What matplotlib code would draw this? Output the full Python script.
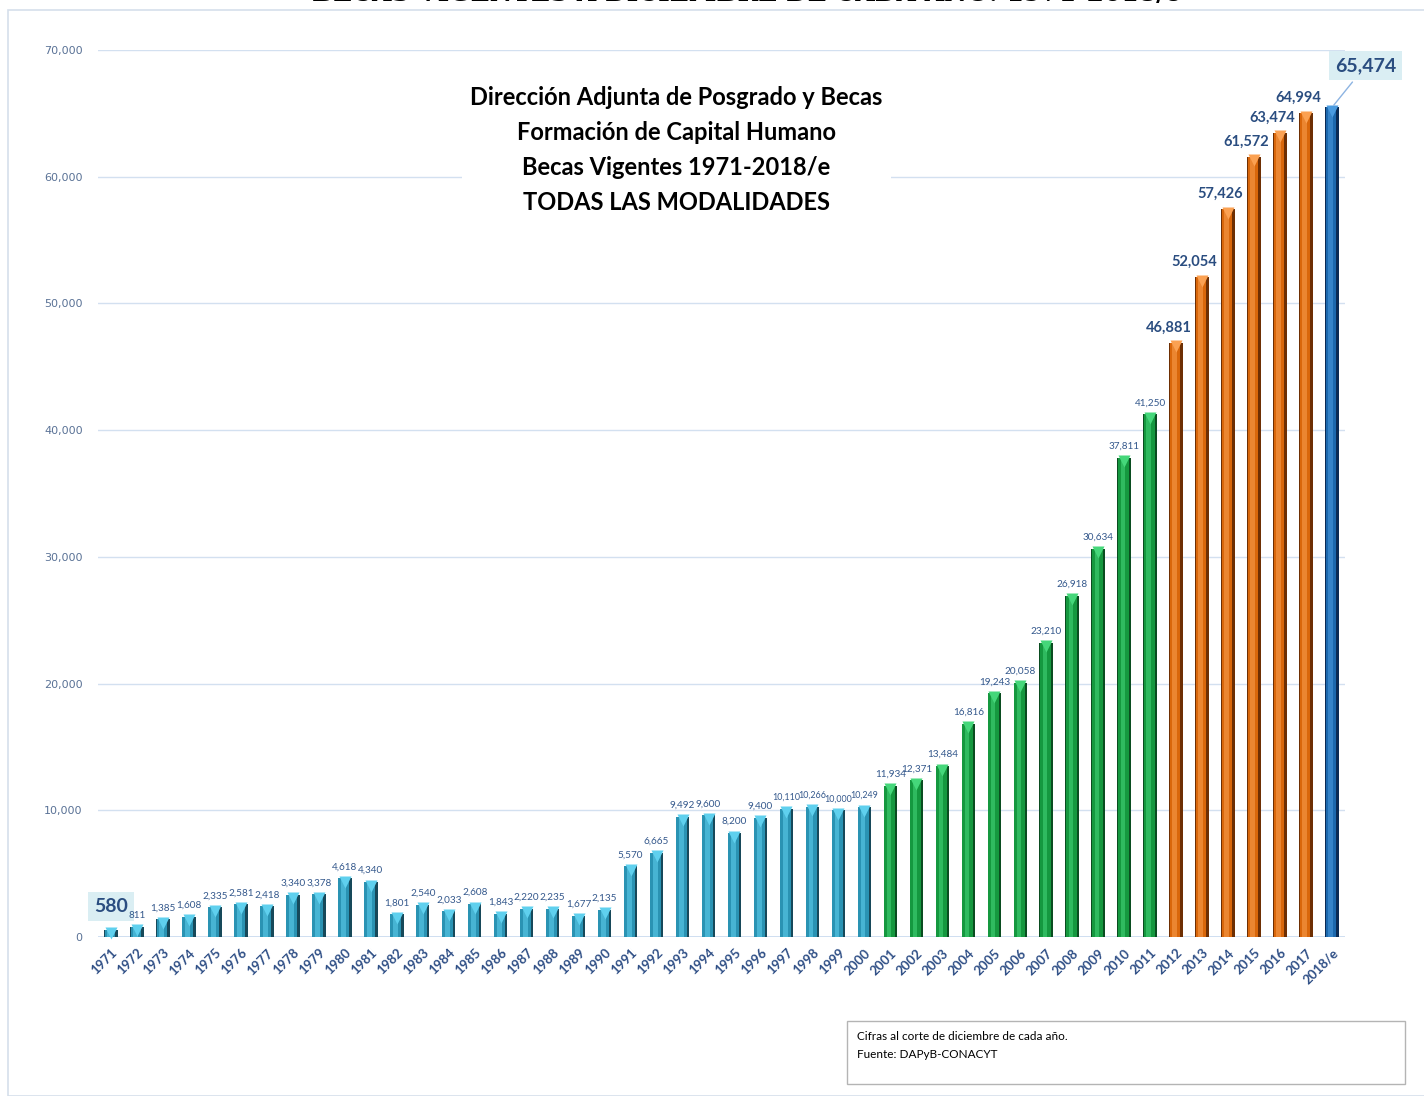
import numpy as np
import matplotlib
matplotlib.use('Agg')
import matplotlib.pyplot as plt
from matplotlib.patches import Rectangle

years = ['1971', '1972', '1973', '1974', '1975', '1976', '1977', '1978', '1979', '1980',
         '1981', '1982', '1983', '1984', '1985', '1986', '1987', '1988', '1989', '1990',
         '1991', '1992', '1993', '1994', '1995', '1996', '1997', '1998', '1999', '2000',
         '2001', '2002', '2003', '2004', '2005', '2006', '2007', '2008', '2009', '2010',
         '2011', '2012', '2013', '2014', '2015', '2016', '2017', '2018/e']
becas = [580, 811, 1385, 1608, 2335, 2581, 2418, 3340, 3378, 4618,
         4340, 1801, 2540, 2033, 2608, 1843, 2220, 2235, 1677, 2135,
         5570, 6665, 9492, 9600, 8200, 9400, 10110, 10266, 10000, 10249,
         11934, 12371, 13484, 16816, 19243, 20058, 23210, 26918, 30634, 37811,
         41250, 46881, 52054, 57426, 61572, 63474, 64994, 65474]
# periodo de cada barra: 0 = 1971-2000, 1 = 2001-2011, 2 = 2012-2017, 3 = 2018/e
periodo = [0] * 30 + [1] * 11 + [2] * 6 + [3]

titulo = ['Dirección Adjunta de Posgrado y Becas', 'Formación de Capital Humano',
          'Becas Vigentes 1971-2018/e', 'TODAS LAS MODALIDADES']
nota = ['Cifras al corte de diciembre de cada año.', 'Fuente: DAPyB-CONACYT']

# colores (borde oscuro, medio, claro)
paletas = [('#17495a', '#2a93b3', '#5fd0ee'),
           ('#0a4d20', '#15983f', '#45d77a'),
           ('#6e2f03', '#d9670b', '#fba152'),
           ('#0a2b55', '#1c68ad', '#4a9be0')]

azul_texto = '#34588c'

fig = plt.figure(figsize=(14.24, 10.96), dpi=100)
ax = fig.add_axes([98 / 1424, 1 - 937 / 1096, 1247 / 1424, 887 / 1096])

# marco del grafico
fig.patches.append(Rectangle((8 / 1424, 0), 1.0, 1 - 10 / 1096, transform=fig.transFigure,
                             fill=False, edgecolor='#d5dfeb', linewidth=1.2))

x = np.arange(len(years))
ancho = 0.52
# barras con aspecto biselado: capas de mas oscuro a mas claro
for i, v in enumerate(becas):
    oscuro, medio, claro = paletas[periodo[i]]
    ax.bar(x[i], v, width=ancho, color=oscuro, zorder=3)
    ax.bar(x[i] - 0.04, v, width=ancho * 0.8, color=medio, zorder=3)
    ax.bar(x[i] - 0.05, v, width=ancho * 0.35, color=claro, alpha=0.55, zorder=3, linewidth=0)
    ax.plot(x[i], v - 280, marker='v', markersize=8, color=claro,
            markeredgecolor='none', zorder=4, clip_on=False)

# etiquetas de valores
for i, v in enumerate(becas):
    txt = f'{v:,}'
    if i == 0:
        ax.text(x[i], v + 1150, txt, ha='center', va='bottom', fontsize=14, fontweight='bold',
                color='#2a4d80', family='Lato', zorder=5,
                bbox=dict(boxstyle='square,pad=0.32', fc='#daeef3', ec='none'))
    elif i == len(becas) - 1:
        ax.annotate(txt, xy=(x[i], v), xytext=(x[i] + 1.3, v + 3300),
                    ha='center', va='center', fontsize=14, fontweight='bold',
                    color='#2a4d80', family='Lato', zorder=5, annotation_clip=False,
                    bbox=dict(boxstyle='square,pad=0.3', fc='#daeef3', ec='none'),
                    arrowprops=dict(arrowstyle='-', color='#8db4e2', lw=1))
    elif periodo[i] == 2:
        ax.text(x[i] - 0.3, v + 650, txt, ha='center', va='bottom', fontsize=10.5,
                fontweight='bold', color='#2a4d80', family='Lato', zorder=5)
    else:
        # las cifras de cinco digitos de 1997-2000 van mas chicas para no encimarse
        fs = 6.4 if (periodo[i] == 0 and v >= 10000) else 7.2
        ax.text(x[i], v + 550, txt, ha='center', va='bottom', fontsize=fs,
                color=azul_texto, family='Lato', zorder=5)

ax.set_xlim(-0.5, len(years) - 0.5)
ax.set_ylim(0, 70000)
ax.set_yticks(np.arange(0, 70001, 10000))
ax.set_yticklabels([f'{t:,}' for t in range(0, 70001, 10000)], fontsize=8,
                   color='#5a7296', family='DejaVu Sans')
ax.set_xticks(x)
ax.set_xticklabels(years, rotation=45, ha='right', rotation_mode='anchor',
                   fontsize=9.5, fontweight='bold', color='#2f4f86', family='Lato')
ax.tick_params(axis='y', length=0, pad=11)
ax.tick_params(axis='x', length=0, pad=7)
ax.grid(axis='y', color='#d3e0f0', linewidth=1, zorder=0)
for s in ax.spines.values():
    s.set_visible(False)
ax.axhline(0, color='#c9daef', linewidth=1.2, zorder=2)

# titulo interno con fondo blanco sobre la cuadricula
ax.text(0.464, 0.959, '\n'.join(titulo), transform=ax.transAxes, ha='center', va='top',
        fontsize=17, fontweight='bold', family='Lato', color='black', linespacing=1.62,
        zorder=6, bbox=dict(boxstyle='square,pad=0.35', fc='white', ec='none'))

# titulo superior recortado (asi aparece en la imagen original)
fig.text(0.524, 1 - 6 / 1096, 'BECAS VIGENTES A DICIEMBRE DE CADA AÑO: 1971-2018/e',
         ha='center', va='bottom', fontsize=18, fontweight='bold', family='DejaVu Serif',
         color='black')

# nota al pie
fig.patches.append(Rectangle((847 / 1424, 1 - 1084 / 1096), 558 / 1424, 63 / 1096,
                             transform=fig.transFigure, fill=False,
                             edgecolor='#b4b4b4', linewidth=1))
fig.text(857 / 1424, 1 - 1036 / 1096, nota[0], fontsize=8.5, family='Lato', va='center')
fig.text(857 / 1424, 1 - 1054 / 1096, nota[1], fontsize=8.5, family='Lato', va='center')

fig.savefig('out.png', dpi=100, facecolor='white')
